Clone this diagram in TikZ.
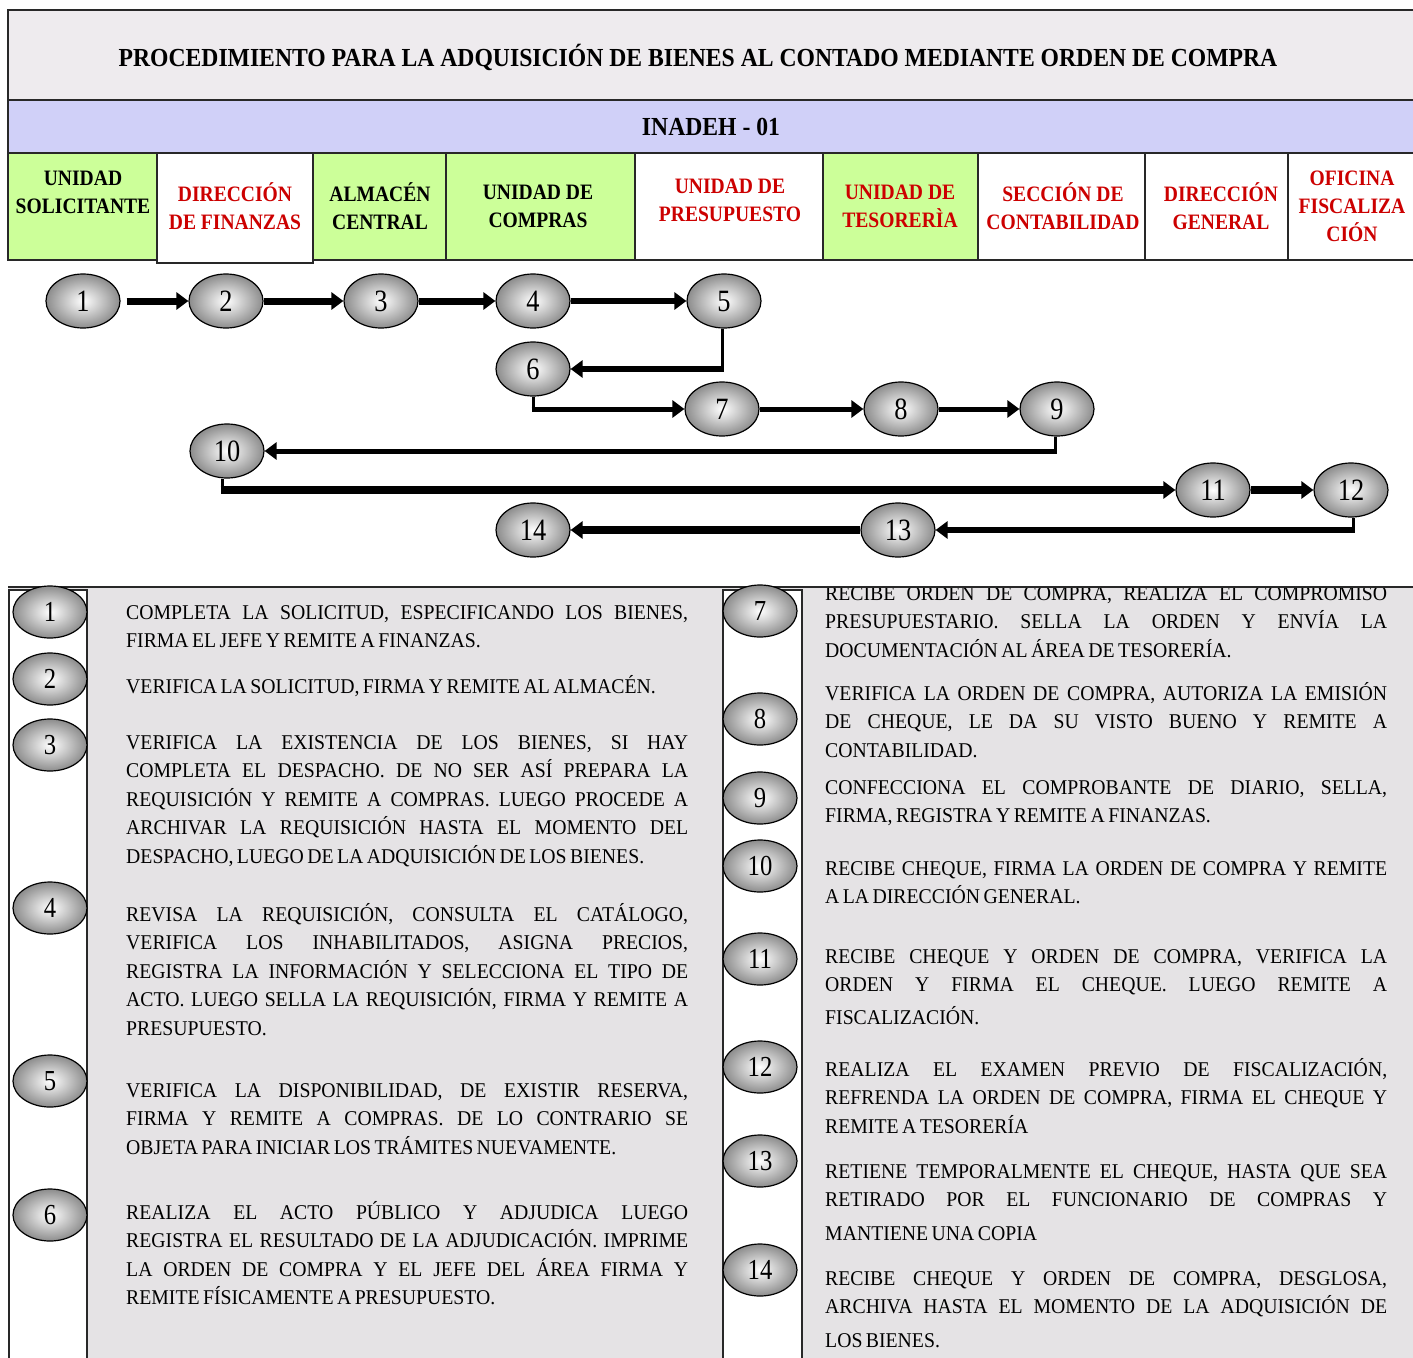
\documentclass[tikz,border=0pt]{standalone}
\usepackage{fontspec}
\setmainfont{Liberation Serif}
\newfontfamily\bodyfont{Liberation Serif}[FakeStretch=0.94,WordSpace=0.7]
\newfontfamily\headfont{Liberation Serif}[FakeStretch=0.89]
\newfontfamily\titlefont{Liberation Serif}[FakeStretch=0.91]
\newfontfamily\numfont{Liberation Serif}[FakeStretch=0.85]
\usetikzlibrary{shapes.geometric,arrows.meta}

\definecolor{titlegray}{RGB}{238,235,238}
\definecolor{lavender}{RGB}{208,208,248}
\definecolor{hgreen}{RGB}{204,255,153}
\definecolor{hred}{RGB}{204,0,0}
\definecolor{panelgray}{RGB}{229,227,229}
\definecolor{linegray}{RGB}{40,40,40}

\newcommand\jl[1]{\makebox[562pt][s]{#1}}

\begin{document}
\begin{tikzpicture}[x=1pt,y=-1pt,
  border/.style={draw=linegray, line width=2pt},
  ball/.style={ellipse, draw=black, line width=1.2pt, minimum width=74pt, minimum height=54pt,
     inner sep=0pt, inner color=white, outer color=gray!90,
     font=\numfont\fontsize{31}{31}\selectfont},
  sball/.style={ball, minimum height=52pt, font=\numfont\fontsize{29}{29}\selectfont},
  head/.style={font=\headfont\bfseries\fontsize{22}{28}\selectfont, align=center, inner sep=0pt},
  titletext/.style={font=\titlefont\bfseries\fontsize{26}{30}\selectfont, inner sep=0pt},
  steptext/.style={anchor=north west, inner sep=0pt, align=left,
     font=\bodyfont\fontsize{21}{28.5}\selectfont},
  flowarrow/.style={line width=#1, -{Triangle[length=12pt,width=17pt]}},
  seg/.style={line width=#1}
]
\useasboundingbox (0,0) rectangle (1413,1357);
\fill[white] (0,0) rectangle (1413,1357);

% ---------- title rows
\draw[border, fill=titlegray] (8,10) rectangle (1425,100);
\node[titletext] (title) at (698,57) {PROCEDIMIENTO PARA LA ADQUISICIÓN DE BIENES AL CONTADO MEDIANTE ORDEN DE COMPRA};
\draw[border, fill=lavender] (8,100) rectangle (1425,153);
\node[titletext, font=\titlefont\bfseries\fontsize{26}{30}\selectfont] (code) at (711,127) {INADEH - 01};

% ---------- column headers
\draw[border, fill=hgreen] (8,153) rectangle (157,260);
\draw[border, fill=white] (157,153) rectangle (313,263);
\draw[border, fill=hgreen] (313,153) rectangle (446,260);
\draw[border, fill=hgreen] (446,153) rectangle (635,260);
\draw[border, fill=white] (635,153) rectangle (823,260);
\draw[border, fill=hgreen] (823,153) rectangle (978,260);
\draw[border, fill=white] (978,153) rectangle (1145,260);
\draw[border, fill=white] (1145,153) rectangle (1288,260);
\draw[border, fill=white] (1288,153) rectangle (1425,260);

\node[head] (h1) at (83,192) {UNIDAD\\SOLICITANTE};
\node[head, text=hred] (h2) at (235,206) {DIRECCIÓN\\DE FINANZAS};
\node[head] (h3) at (380,206) {ALMACÉN\\CENTRAL};
\node[head] (h4) at (538,206) {UNIDAD DE\\COMPRAS};
\node[head, text=hred] (h5) at (730,200) {UNIDAD DE\\PRESUPUESTO};
\node[head, text=hred] (h6) at (900,206) {UNIDAD DE\\TESORERÌA};
\node[head, text=hred] (h7) at (1063,206) {SECCIÓN DE\\CONTABILIDAD};
\node[head, text=hred] (h8) at (1221,206) {DIRECCIÓN\\GENERAL};
\node[head, text=hred] (h9) at (1352,206) {OFICINA\\FISCALIZA\\CIÓN};

% ---------- flow
\node[ball] (n1) at (83,301) {1};
\node[ball] (n2) at (226,301) {2};
\node[ball] (n3) at (381,301) {3};
\node[ball] (n4) at (533,301) {4};
\node[ball] (n5) at (724,301) {5};
\node[ball] (n6) at (533,369) {6};
\node[ball] (n7) at (722,409) {7};
\node[ball] (n8) at (901,409) {8};
\node[ball] (n9) at (1057,409) {9};
\node[ball] (n10) at (227,451) {10};
\node[ball] (n11) at (1213,490) {11};
\node[ball] (n12) at (1351,490) {12};
\node[ball] (n13) at (898,530) {13};
\node[ball] (n14) at (533,530) {14};

\draw[flowarrow=7pt, shorten <=6pt] (n1.east) -- (n2.west);
\draw[flowarrow=7pt] (n2.east) -- (n3.west);
\draw[flowarrow=7pt] (n3.east) -- (n4.west);
\draw[flowarrow=6pt] (n4.east) -- (n5.west);

\coordinate (c56) at ([xshift=-2pt]n5.south |- n6.east);
\draw[seg=3pt] ([xshift=-2pt]n5.south) -- ([yshift=-3pt]c56);
\draw[flowarrow=6pt] ([xshift=1.5pt]c56) -- (n6.east);

\coordinate (c67) at (n6.south |- n7.west);
\draw[seg=3pt] (n6.south) -- ([yshift=-2.5pt]c67);
\draw[flowarrow=5pt] ([xshift=-1.5pt]c67) -- (n7.west);

\draw[flowarrow=5pt] (n7.east) -- (n8.west);
\draw[flowarrow=5pt] (n8.east) -- (n9.west);

\coordinate (c910) at ([xshift=-2pt]n9.south |- n10.east);
\draw[seg=3pt] ([xshift=-2pt]n9.south) -- ([yshift=-2.5pt]c910);
\draw[flowarrow=5pt] ([xshift=1.5pt]c910) -- (n10.east);

\coordinate (c1011) at ([xshift=-5pt]n10.south |- n11.west);
\draw[seg=3pt] ([xshift=-5pt]n10.south) -- ([yshift=-4pt]c1011);
\draw[flowarrow=8pt] ([xshift=-1.5pt]c1011) -- (n11.west);

\draw[flowarrow=8pt] (n11.east) -- (n12.west);

\coordinate (c1213) at ([xshift=2pt]n12.south |- n13.east);
\draw[seg=3pt] ([xshift=2pt]n12.south) -- ([yshift=-3pt]c1213);
\draw[flowarrow=6pt] ([xshift=1.5pt]c1213) -- (n13.east);

\draw[flowarrow=8pt] (n13.west) -- (n14.east);

% ---------- description panel
\fill[panelgray] (8,587) rectangle (1425,1365);
\draw[border, fill=white] (9,590) rectangle (87,1365);
\draw[border, fill=white] (723,590) rectangle (802,1365);

\node[steptext] (t1) at (126,599) {\strut\jl{COMPLETA LA SOLICITUD, ESPECIFICANDO LOS BIENES,}\\FIRMA EL JEFE Y REMITE A FINANZAS.};
\node[steptext] (t2) at (126,673) {\strut VERIFICA LA SOLICITUD, FIRMA Y REMITE AL ALMACÉN.};
\node[steptext] (t3) at (126,729) {\strut\jl{VERIFICA LA EXISTENCIA DE LOS BIENES, SI HAY}\\
  \jl{COMPLETA EL DESPACHO. DE NO SER ASÍ PREPARA LA}\\
  \jl{REQUISICIÓN Y REMITE A COMPRAS. LUEGO PROCEDE A}\\
  \jl{ARCHIVAR LA REQUISICIÓN HASTA EL MOMENTO DEL}\\
  DESPACHO, LUEGO DE LA ADQUISICIÓN DE LOS BIENES.};
\node[steptext] (t4) at (126,901) {\strut\jl{REVISA LA REQUISICIÓN, CONSULTA EL CATÁLOGO,}\\
  \jl{VERIFICA LOS INHABILITADOS, ASIGNA PRECIOS,}\\
  \jl{REGISTRA LA INFORMACIÓN Y SELECCIONA EL TIPO DE}\\
  \jl{ACTO. LUEGO SELLA LA REQUISICIÓN, FIRMA Y REMITE A}\\
  PRESUPUESTO.};
\node[steptext] (t5) at (126,1077) {\strut\jl{VERIFICA LA DISPONIBILIDAD, DE EXISTIR RESERVA,}\\
  \jl{FIRMA Y REMITE A COMPRAS. DE LO CONTRARIO SE}\\
  OBJETA PARA INICIAR LOS TRÁMITES NUEVAMENTE.};
\node[steptext] (t6) at (126,1199) {\strut\jl{REALIZA EL ACTO PÚBLICO Y ADJUDICA LUEGO}\\
  \jl{REGISTRA EL RESULTADO DE LA ADJUDICACIÓN. IMPRIME}\\
  \jl{LA ORDEN DE COMPRA Y EL JEFE DEL ÁREA FIRMA Y}\\
  REMITE FÍSICAMENTE A PRESUPUESTO.};

\begin{scope}
\clip (802,588) rectangle (1425,1365);
\node[steptext] (t7) at (825,580) {\strut\jl{RECIBE ORDEN DE COMPRA, REALIZA EL COMPROMISO}\\
  \jl{PRESUPUESTARIO. SELLA LA ORDEN Y ENVÍA LA}\\
  DOCUMENTACIÓN AL ÁREA DE TESORERÍA.};
\end{scope}
\node[steptext] (t8) at (825,680) {\strut\jl{VERIFICA LA ORDEN DE COMPRA, AUTORIZA LA EMISIÓN}\\
  \jl{DE CHEQUE, LE DA SU VISTO BUENO Y REMITE A}\\
  CONTABILIDAD.};
\node[steptext] (t9) at (825,774) {\strut\jl{CONFECCIONA EL COMPROBANTE DE DIARIO, SELLA,}\\
  FIRMA, REGISTRA Y REMITE A FINANZAS.};
\node[steptext] (t10) at (825,855) {\strut\jl{RECIBE CHEQUE, FIRMA LA ORDEN DE COMPRA Y REMITE}\\
  A LA DIRECCIÓN GENERAL.};
\node[steptext] (t11) at (825,943) {\strut\jl{RECIBE CHEQUE Y ORDEN DE COMPRA, VERIFICA LA}\\
  \jl{ORDEN Y FIRMA EL CHEQUE. LUEGO REMITE A}\\[4pt]
  FISCALIZACIÓN.};
\node[steptext] (t12) at (825,1056) {\strut\jl{REALIZA EL EXAMEN PREVIO DE FISCALIZACIÓN,}\\
  \jl{REFRENDA LA ORDEN DE COMPRA, FIRMA EL CHEQUE Y}\\
  REMITE A TESORERÍA};
\node[steptext] (t13) at (825,1158) {\strut\jl{RETIENE TEMPORALMENTE EL CHEQUE, HASTA QUE SEA}\\
  \jl{RETIRADO POR EL FUNCIONARIO DE COMPRAS Y}\\[5pt]
  MANTIENE UNA COPIA};
\node[steptext] (t14) at (825,1265) {\strut\jl{RECIBE CHEQUE Y ORDEN DE COMPRA, DESGLOSA,}\\
  \jl{ARCHIVA HASTA EL MOMENTO DE LA ADQUISICIÓN DE}\\[5pt]
  LOS BIENES.};

\draw[border] (8,587) -- (1425,587);

\node[sball] (b1) at (50,612) {1};
\node[sball] (b2) at (50,679) {2};
\node[sball] (b3) at (50,745) {3};
\node[sball] (b4) at (50,908) {4};
\node[sball] (b5) at (50,1081) {5};
\node[sball] (b6) at (50,1215) {6};
\node[sball] (b7) at (760,611) {7};
\node[sball] (b8) at (760,719) {8};
\node[sball] (b9) at (760,798) {9};
\node[sball] (b10) at (760,866) {10};
\node[sball] (b11) at (760,959) {11};
\node[sball] (b12) at (760,1067) {12};
\node[sball] (b13) at (760,1161) {13};
\node[sball] (b14) at (760,1270) {14};
\end{tikzpicture}
\end{document}
